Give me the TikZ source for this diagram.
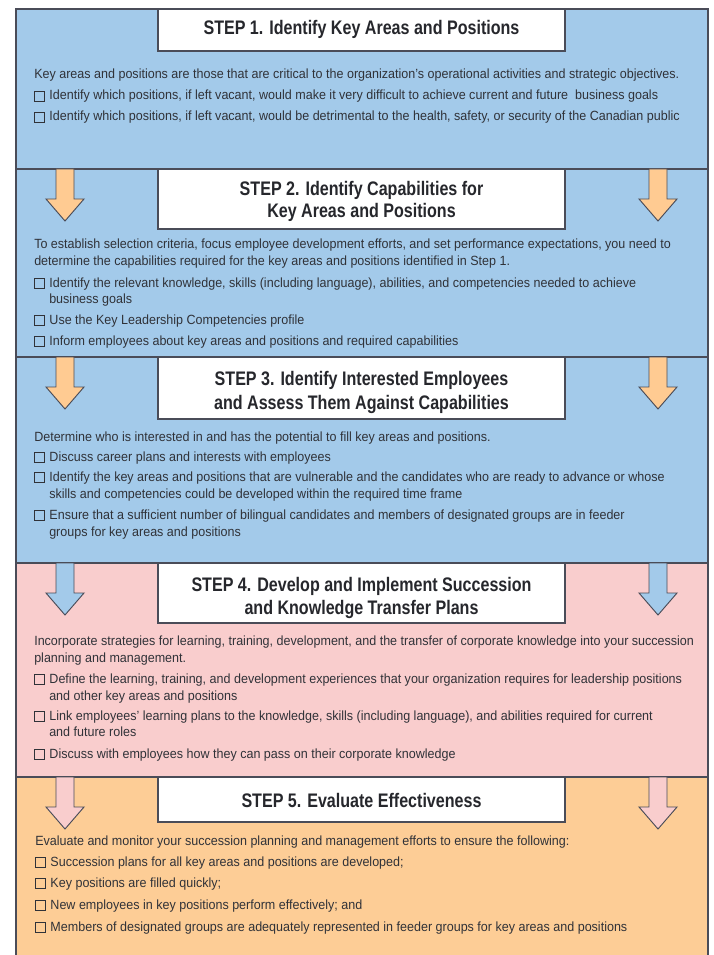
\documentclass[tikz,border=0pt]{standalone}
\usepackage{fontspec}
\setmainfont{Liberation Sans}
\newfontfamily\bodyfont[FakeStretch=0.94]{Liberation Sans}
\newfontfamily\titlefont[FakeStretch=0.82]{Liberation Sans}
\definecolor{secblue}{HTML}{A3CAEA}
\definecolor{secpink}{HTML}{F9CDCD}
\definecolor{secorange}{HTML}{FDCD96}
\definecolor{arrorange}{HTML}{FFCB92}
\definecolor{edge}{HTML}{4A4C58}
\definecolor{bodytext}{HTML}{303238}
\definecolor{titletext}{HTML}{26272C}
\newcommand{\cbox}{\raisebox{-0.6pt}{{\fboxsep=0pt\fboxrule=0.6pt\fbox{\rule{0pt}{7pt}\hspace{7pt}}}}\hspace{3.2pt}}
\newcommand{\bigdownarr}[3]{%
  \draw[arr, fill=#3] (#1-9,#2) -- (#1-9,#2+30) -- (#1-19,#2+30) -- (#1,#2+52)
    -- (#1+19,#2+30) -- (#1+9,#2+30) -- (#1+9,#2) -- cycle;}
\tikzset{
  body/.style={anchor=base west, inner sep=0pt, text=bodytext,
    font=\bodyfont\fontsize{10}{12}\selectfont},
  ttl/.style={anchor=base, inner sep=0pt, text=titletext,
    font=\titlefont\bfseries\fontsize{14.7}{17}\selectfont},
  sect/.style={draw=edge, line width=0.9pt},
  tbox/.style={draw=edge, fill=white, line width=0.9pt},
  arr/.style={draw=edge, line width=0.7pt, line join=miter},
}
\begin{document}
\begin{tikzpicture}[x=0.75pt,y=-0.75pt]
\useasboundingbox (0,0) rectangle (713,955);
\fill[white] (0,0) rectangle (713,955);
% sections
\draw[sect, fill=secblue] (16,9) rectangle (708,169);
\draw[sect, fill=secblue] (16,169) rectangle (708,357);
\draw[sect, fill=secblue] (16,357) rectangle (708,563);
\draw[sect, fill=secpink] (16,563) rectangle (708,777);
\draw[sect, fill=secorange] (16,777) rectangle (708,965);
% arrows
\bigdownarr{65}{169}{arrorange}
\bigdownarr{658}{169}{arrorange}
\bigdownarr{65}{357}{arrorange}
\bigdownarr{658}{357}{arrorange}
\bigdownarr{65}{563}{secblue}
\bigdownarr{658}{563}{secblue}
\bigdownarr{65}{777}{secpink}
\bigdownarr{658}{777}{secpink}
% title boxes
\draw[tbox] (158,9) rectangle (565,51);
\draw[tbox] (158,169) rectangle (565,229);
\draw[tbox] (158,357) rectangle (565,419);
\draw[tbox] (158,563) rectangle (565,623);
\draw[tbox] (158,777) rectangle (565,822);
% step 1
\node[ttl] (t1) at (361.5,35) {STEP 1. Identify Key Areas and Positions};
\node[body] (p1a) at (34,79) {Key areas and positions are those that are critical to the organization’s operational activities and strategic objectives.};
\node[body] (i1a) at (34,100) {\cbox Identify which positions, if left vacant, would make it very difficult to achieve current and future \ business goals};
\node[body] (i1b) at (34,121) {\cbox Identify which positions, if left vacant, would be detrimental to the health, safety, or security of the Canadian public};
% step 2
\node[ttl] (t2a) at (361.5,196) {STEP 2. Identify Capabilities for};
\node[ttl] (t2b) at (361.5,218) {Key Areas and Positions};
\node[body] (p2a) at (34,249) {To establish selection criteria, focus employee development efforts, and set performance expectations, you need to};
\node[body] (p2b) at (34,266) {determine the capabilities required for the key areas and positions identified in Step 1.};
\node[body] (i2a) at (34,287) {\cbox Identify the relevant knowledge, skills (including language), abilities, and competencies needed to achieve};
\node[body] (i2a2) at (49,303) {business goals};
\node[body] (i2b) at (34,324) {\cbox Use the Key Leadership Competencies profile};
\node[body] (i2c) at (34,345) {\cbox Inform employees about key areas and positions and required capabilities};
% step 3
\node[ttl] (t3a) at (361.5,385) {STEP 3. Identify Interested Employees};
\node[ttl] (t3b) at (361.5,409) {and Assess Them Against Capabilities};
\node[body] (p3a) at (34,441) {Determine who is interested in and has the potential to fill key areas and positions.};
\node[body] (i3a) at (34,461) {\cbox Discuss career plans and interests with employees};
\node[body] (i3b) at (34,481) {\cbox Identify the key areas and positions that are vulnerable and the candidates who are ready to advance or whose};
\node[body] (i3b2) at (49,498) {skills and competencies could be developed within the required time frame};
\node[body] (i3c) at (34,519) {\cbox Ensure that a sufficient number of bilingual candidates and members of designated groups are in feeder};
\node[body] (i3c2) at (49,536) {groups for key areas and positions};
% step 4
\node[ttl] (t4a) at (361.5,591) {STEP 4. Develop and Implement Succession};
\node[ttl] (t4b) at (361.5,614) {and Knowledge Transfer Plans};
\node[body] (p4a) at (34,645) {Incorporate strategies for learning, training, development, and the transfer of corporate knowledge into your succession};
\node[body] (p4b) at (34,662) {planning and management.};
\node[body] (i4a) at (34,683) {\cbox Define the learning, training, and development experiences that your organization requires for leadership positions};
\node[body] (i4a2) at (49,700) {and other key areas and positions};
\node[body] (i4b) at (34,720) {\cbox Link employees’ learning plans to the knowledge, skills (including language), and abilities required for current};
\node[body] (i4b2) at (49,736) {and future roles};
\node[body] (i4c) at (34,758) {\cbox Discuss with employees how they can pass on their corporate knowledge};
% step 5
\node[ttl] (t5) at (361.5,807) {STEP 5. Evaluate Effectiveness};
\node[body] (p5a) at (35,845) {Evaluate and monitor your succession planning and management efforts to ensure the following:};
\node[body] (i5a) at (35,866) {\cbox Succession plans for all key areas and positions are developed;};
\node[body] (i5b) at (35,887) {\cbox Key positions are filled quickly;};
\node[body] (i5c) at (35,909) {\cbox New employees in key positions perform effectively; and};
\node[body] (i5d) at (35,931) {\cbox Members of designated groups are adequately represented in feeder groups for key areas and positions};
\end{tikzpicture}
\end{document}
